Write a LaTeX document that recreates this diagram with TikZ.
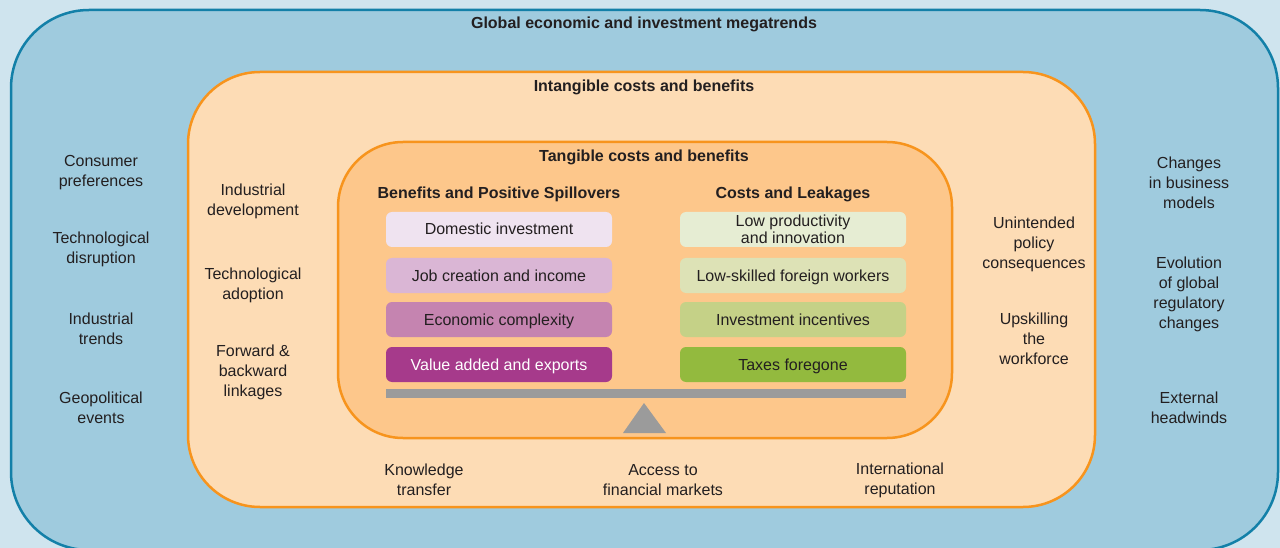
\documentclass[tikz,border=0pt]{standalone}
\usepackage{fontspec}
\setmainfont{Liberation Sans}
\definecolor{bgc}{HTML}{CFE4EE}
\definecolor{outerfill}{HTML}{9FCBDE}
\definecolor{outerline}{HTML}{1380A8}
\definecolor{intfill}{HTML}{FDDCB5}
\definecolor{orangeline}{HTML}{F7941D}
\definecolor{tanfill}{HTML}{FDC78B}
\definecolor{txt}{HTML}{231F20}
\definecolor{bA}{HTML}{EFE3F0}
\definecolor{bB}{HTML}{DAB6D5}
\definecolor{bC}{HTML}{C584B0}
\definecolor{bD}{HTML}{A63A8B}
\definecolor{cA}{HTML}{E6EDD3}
\definecolor{cB}{HTML}{DDE2B6}
\definecolor{cC}{HTML}{C5D187}
\definecolor{cD}{HTML}{93BA3E}
\definecolor{beamgray}{HTML}{9B9B9B}
\tikzset{
  lbl/.style={text=txt, align=center, font=\fontsize{16}{20}\selectfont, inner sep=0pt, yshift=-2pt},
  ttl/.style={text=txt, align=center, font=\fontsize{16}{20}\selectfont\bfseries, inner sep=0pt, yshift=-2pt},
  itembox/.style={text=txt, align=center, font=\fontsize{16}{17}\selectfont, minimum width=226pt, minimum height=35pt, rounded corners=6pt, inner sep=0pt},
  oneline/.style={text height=11.5pt, text depth=0.5pt},
}
\begin{document}
\begin{tikzpicture}[x=1pt,y=-1pt]
\useasboundingbox (0,0) rectangle (1280,548);
\fill[bgc] (0,0) rectangle (1280,548);
\draw[outerline, fill=outerfill, line width=2.5pt, rounded corners=78pt] (11,10) rectangle (1278,550);
\draw[orangeline, fill=intfill, line width=2.5pt, rounded corners=72pt] (188,72) rectangle (1095,507);
\draw[orangeline, fill=tanfill, line width=2.5pt, rounded corners=65pt] (338,142) rectangle (952,438);

\node[ttl] (global) at (644,22) {Global economic and investment megatrends};
\node[ttl] (intang) at (644,85) {Intangible costs and benefits};
\node[ttl] (tang) at (644,155) {Tangible costs and benefits};
\node[ttl] (benh) at (499,192) {Benefits and Positive Spillovers};
\node[ttl] (costh) at (793,192) {Costs and Leakages};

\node[itembox, oneline, fill=bA] (b1) at (499,229.5) {Domestic investment};
\node[itembox, oneline, fill=bB] (b2) at (499,275.5) {Job creation and income};
\node[itembox, oneline, fill=bC] (b3) at (499,319.5) {Economic complexity};
\node[itembox, oneline, fill=bD, text=white] (b4) at (499,364.5) {Value added and exports};
\node[itembox, fill=cA] (c1) at (793,229.5) {Low productivity\\and innovation};
\node[itembox, oneline, fill=cB] (c2) at (793,275.5) {Low-skilled foreign workers};
\node[itembox, oneline, fill=cC] (c3) at (793,319.5) {Investment incentives};
\node[itembox, oneline, fill=cD] (c4) at (793,364.5) {Taxes foregone};

\fill[beamgray] (386,389) rectangle (906,398);
\fill[beamgray] (623,433) -- (644,403) -- (666,433) -- cycle;

\node[lbl] (o1) at (101,171) {Consumer\\preferences};
\node[lbl] (o2) at (101,247.5) {Technological\\disruption};
\node[lbl] (o3) at (101,326.5) {Industrial\\trends};
\node[lbl] (o4) at (101,405.5) {Geopolitical\\events};

\node[lbl] (i1) at (253,199) {Industrial\\development};
\node[lbl] (i2) at (253,283.5) {Technological\\adoption};
\node[lbl] (i3) at (253,370) {Forward \&\\backward\\linkages};

\node[lbl] (i4) at (1034,242) {Unintended\\policy\\consequences};
\node[lbl] (i5) at (1034,336.5) {Upskilling\\the\\workforce};

\node[lbl] (o5) at (1189,180.5) {Changes\\in business\\models};
\node[lbl] (o6) at (1189,292.5) {Evolution\\of global\\regulatory\\changes};
\node[lbl] (o7) at (1189,405.5) {External\\headwinds};

\node[lbl] (k1) at (424,478) {Knowledge\\transfer};
\node[lbl] (k2) at (663,478) {Access to\\financial markets};
\node[lbl] (k3) at (900,478) {International\\reputation};
\end{tikzpicture}
\end{document}
